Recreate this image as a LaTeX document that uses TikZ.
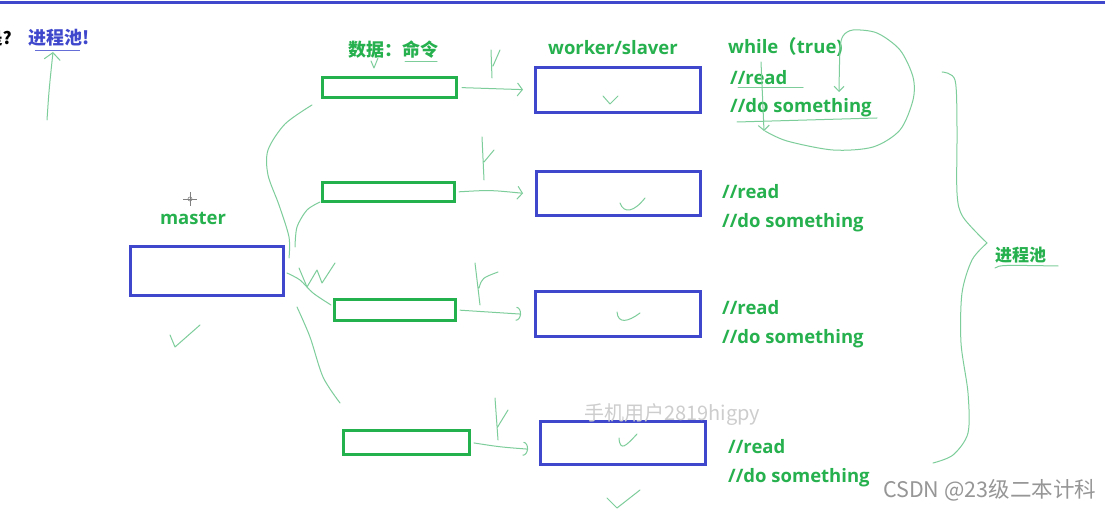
\documentclass[tikz,border=0pt]{standalone}
\usepackage{fontspec}
\setmainfont{Open Sans}
\newfontfamily\cjk{Noto Sans CJK SC}
\usetikzlibrary{arrows.meta}
\definecolor{grn}{RGB}{34,177,76}
\definecolor{txtg}{RGB}{38,176,78}
\definecolor{blu}{RGB}{63,72,204}
\definecolor{handc}{RGB}{125,205,155}
\definecolor{wma}{RGB}{205,205,205}
\definecolor{wmb}{RGB}{150,150,150}
\tikzset{
 gbox/.style={draw=grn, line width=3pt, inner sep=0pt},
 bbox/.style={draw=blu, line width=3pt, inner sep=0pt},
 hand/.style={draw=handc, line width=1pt, line cap=round, line join=round},
 harrow/.style={hand, -{Straight Barb[length=5pt,width=13pt]}},
 harc/.style={hand, -{Arc Barb[length=5pt,width=14pt]}},
 lbl/.style={text=txtg, font=\fontsize{18.5}{21}\selectfont\bfseries, inner sep=0pt},
 cjklbl/.style={text=txtg, font=\fontsize{18}{20}\selectfont\cjk\bfseries, inner sep=0pt},
}
\begin{document}
\begin{tikzpicture}[x=1pt,y=-1pt]
\useasboundingbox (0,0) rectangle (1105,510);
\fill[white] (0,0) rectangle (1105,510);
\draw[blu, line width=3pt] (0,3) -- (1105,3);

% top-left
\node[anchor=east, inner sep=0pt, font=\fontsize{17}{20}\selectfont\cjk\bfseries] (q) at (12,38) {是?};
\node[anchor=west, inner sep=0pt, text=blu, font=\fontsize{18}{20}\selectfont\cjk\bfseries] (tpool) at (28,38) {进程池!};
\draw[draw=blu!80, line width=0.8pt] (35,50) -- (80,50);
\coordinate (a0) at (47,120);
\draw[hand, -{Straight Barb[length=7pt,width=16pt]}] (a0) .. controls (49,90) .. (53,52);

% labels
\node[cjklbl, anchor=west] (data) at (348,50) {数据：命令};
\draw[hand] (405,62) -- (437,62);
\draw[hand] (371,61) -- (374,68) -- (378,58);
\node[lbl] (wlbl) at (613,48) {worker/slaver};
\node[lbl] (mlbl) at (193,218) {master};
% cursor
\draw[gray, line width=0.6pt] (183,199) -- (197,199) (190,192) -- (190,206);
\draw[gray, line width=0.6pt] (190,199) circle (2);

% boxes
\node[bbox, minimum width=153pt, minimum height=49pt] (master) at (207,271) {};
\node[gbox, minimum width=134pt, minimum height=20pt] (g1) at (389.5,87.5) {};
\node[gbox, minimum width=132pt, minimum height=19pt] (g2) at (388.5,192) {};
\node[gbox, minimum width=121pt, minimum height=21pt] (g3) at (395,310) {};
\node[gbox, minimum width=126pt, minimum height=24pt] (g4) at (406.5,442.5) {};
\node[bbox, minimum width=165pt, minimum height=45pt] (b1) at (618,90) {};
\node[bbox, minimum width=164pt, minimum height=44pt] (b2) at (618.5,193.5) {};
\node[bbox, minimum width=165pt, minimum height=45pt] (b3) at (618,314) {};
\node[bbox, minimum width=165pt, minimum height=43pt] (b4) at (623,443) {};

% arrows green -> blue
\draw[harrow, shorten <=4pt, shorten >=11pt] (g1.east) -- (b1.west);
\draw[harrow, shorten <=3pt, shorten >=12pt] (g2.east) .. controls (490,190) .. ([yshift=-1]b2.west);
\draw[harc, shorten <=3pt, shorten >=13pt] (g3.east) .. controls (490,312) .. ([yshift=-1]b3.west);
\draw[harc, shorten <=3pt, shorten >=11pt] (g4.east) .. controls (500,447) .. ([yshift=-7]b4.west);

% Y ticks
\draw[hand] (491,50) -- (492,78) (493,66) -- (500,50);
\draw[hand] (482,137) -- (484,180) (484,162) -- (494,150);
\draw[hand] (475,263) -- (480,305) (479,288) .. controls (482,278) .. (498,272);
\draw[hand] (495,398) -- (498,440) (497,428) -- (508,410);

% checks
\draw[hand] (603,96) -- (610,104) -- (618,96);
\draw[hand] (620,203) .. controls (624,214) and (634,212) .. (645,198);
\draw[hand] (617,312) .. controls (618,324) and (628,322) .. (640,313);
\draw[hand] (619,438) .. controls (620,452) and (626,446) .. (637,434);
\draw[hand] (607,498) -- (617,508) -- (640,490);
\draw[hand] (170,335) -- (175,347) -- (200,325);

% master curves
\draw[hand] plot[smooth] coordinates {(289,258) (289,237) (279,205) (268,175) (268,150) (285,124) (312,105)};
\draw[hand] plot[smooth] coordinates {(295,247) (297,227) (307,210) (320,202)};
\draw[hand] plot[smooth] coordinates {(287,273) (300,280) (313,293) (331,305)};
\draw[hand] (299,268) -- (307,287) -- (317,270) -- (322,283) -- (335,263);
\draw[hand] plot[smooth] coordinates {(297,307) (310,337) (323,377) (340,403)};

% code texts
\node[lbl, anchor=west] (wh) at (728,47) {while{\cjk （}true)};
\node[lbl, anchor=west] (r1) at (730,78) {//read};
\node[lbl, anchor=west] (d1) at (730,108) {//do something};
\draw[hand] (738,88) -- (803,88);
\draw[hand] (737,122) -- (877,118);
\node[lbl, anchor=west] (r2) at (722,192) {//read};
\node[lbl, anchor=west] (d2) at (722,223) {//do something};
\node[lbl, anchor=west] (r3) at (722,308) {//read};
\node[lbl, anchor=west] (d3) at (722,339) {//do something};
\node[lbl, anchor=west] (r4) at (728,447) {//read};
\node[lbl, anchor=west] (d4) at (728,478) {//do something};

% loop
\draw[hand, -{Straight Barb[length=5pt,width=11pt]}] (761,62) -- (764,131);
\draw[hand, -{Straight Barb[length=5pt,width=10pt]}] plot[smooth] coordinates {(765,131) (787,141) (833,150) (873,147) (900,130) (913,100) (913,77) (900,50) (877,33) (853,30) (843,36) (840,50) (839,92)};

% brace
\draw[hand] plot[smooth] coordinates {(942,72) (955,80) (957,127) (957,193) (963,217) (987,243)};
\draw[hand] plot[smooth] coordinates {(987,243) (972,260) (962,293) (961,343) (968,393) (968,433) (953,455) (933,463)};
\node[cjklbl, anchor=west, font=\fontsize{17}{20}\selectfont\cjk\bfseries] (pool) at (995,255) {进程池};
\draw[hand] (995,268) .. controls (1000,265) .. (1058,266);

% watermarks
\node[anchor=west, inner sep=0pt, text=wma, font=\fontsize{20}{22}\selectfont\cjk] (wm1) at (584,415) {手机用户2819higpy};
\node[anchor=west, inner sep=0pt, text=wmb, font=\fontsize{21.5}{23}\selectfont\cjk] (wm2) at (883,490) {CSDN @23级二本计科};
\end{tikzpicture}
\end{document}
